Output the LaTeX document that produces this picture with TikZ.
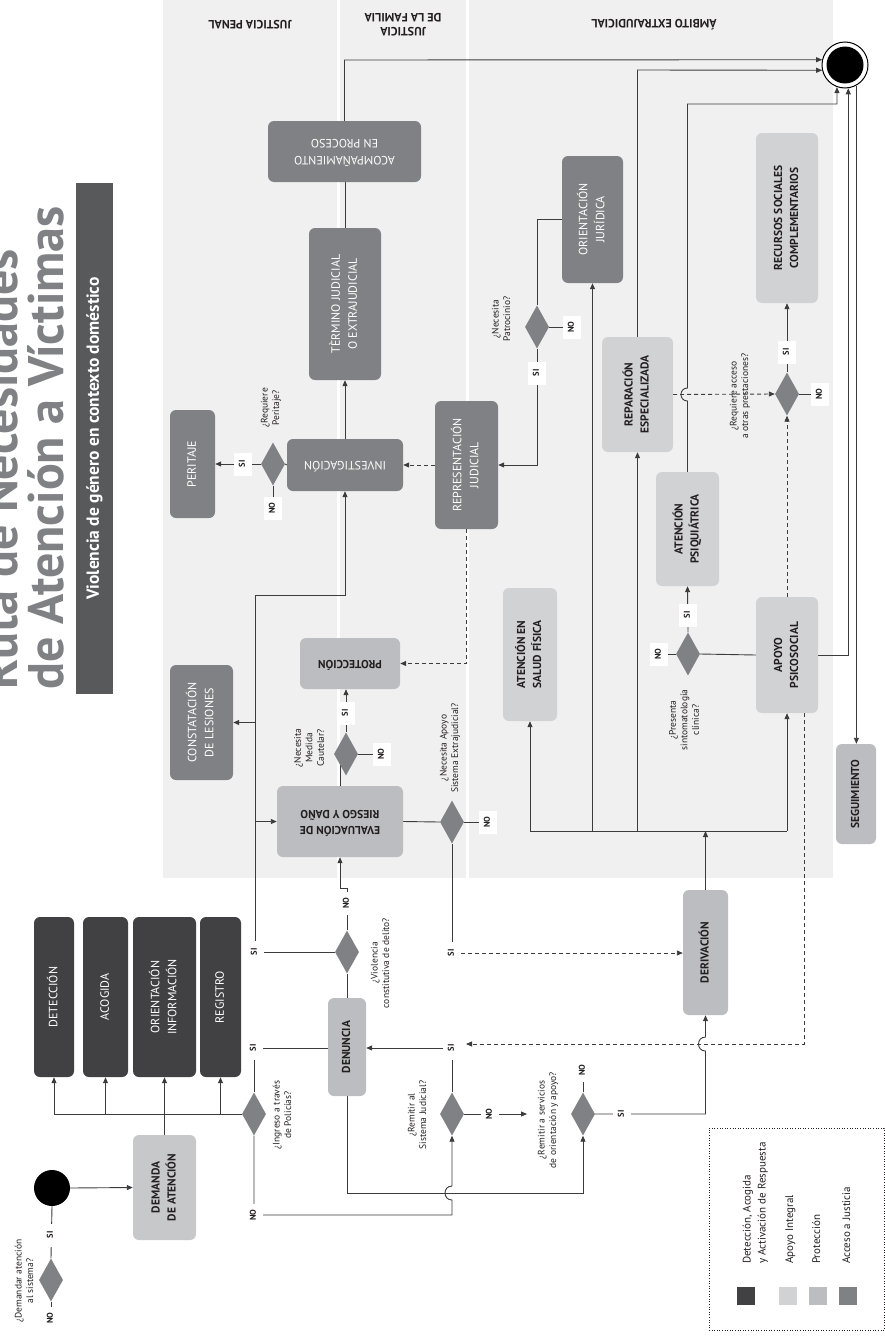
\documentclass[tikz,border=0pt]{standalone}
\usepackage{fontspec}
\setmainfont{PT Sans}
\usetikzlibrary{shapes.geometric,arrows.meta,calc}
\definecolor{cDet}{HTML}{414042}
\definecolor{cAcc}{HTML}{808184}
\definecolor{cPro}{HTML}{BCBDC0}
\definecolor{cApo}{HTML}{D1D2D4}
\definecolor{cDem}{HTML}{C7C8CA}
\definecolor{cDia}{HTML}{808184}
\definecolor{cLane}{HTML}{F0F0F0}
\definecolor{cLine}{HTML}{3C3C3C}
\definecolor{cTxt}{HTML}{231F20}
\definecolor{cTitle}{HTML}{808184}
\definecolor{cBar}{HTML}{58595B}
\newcommand\rtx[1]{\rotatebox{90}{\begin{tabular}{@{}c@{}}#1\end{tabular}}}
\newcommand\rlx[1]{\rotatebox{90}{\begin{tabular}{@{}l@{}}#1\end{tabular}}}
\newcommand\udx[1]{\rotatebox{180}{\begin{tabular}{@{}c@{}}#1\end{tabular}}}
\pgfdeclarelayer{bg}
\pgfsetlayers{bg,main}
\tikzset{
 box/.style={rectangle, rounded corners=6pt, inner sep=0pt},
 bdet/.style={box, fill=cDet, text=white, font=\fontsize{12}{17}\selectfont},
 bacc/.style={box, fill=cAcc, text=white, font=\fontsize{12}{17}\selectfont},
 bpro/.style={box, fill=cPro, text=cTxt, font=\bfseries\fontsize{11.5}{16}\selectfont},
 bapo/.style={box, fill=cApo, text=cTxt, font=\bfseries\fontsize{11.5}{16}\selectfont},
 dia/.style={diamond, fill=cDia, inner sep=0pt, minimum width=24pt, minimum height=43pt},
 lbl/.style={rectangle, fill=white, inner sep=0pt, minimum width=18pt, minimum height=23pt, text=cTxt, font=\bfseries\fontsize{8.5}{9}\selectfont},
 qtxt/.style={inner sep=0pt, text=cTxt, font=\fontsize{9.5}{11.5}\selectfont},
 hdr/.style={inner sep=0pt, text=cTxt, align=center, font=\bfseries\fontsize{12}{14}\selectfont},
 ln/.style={draw=cLine, line width=0.9pt},
 arr/.style={ln, -{Triangle[length=6pt,width=5pt]}},
 dsh/.style={ln, dash pattern=on 4pt off 3pt},
 darr/.style={dsh, -{Triangle[length=6pt,width=5pt]}},
 legt/.style={inner sep=0pt, text=cTxt, font=\fontsize{11}{15}\selectfont},
}
\begin{document}
\begin{tikzpicture}[x=1pt,y=-1pt]
\useasboundingbox (0,0) rectangle (885,1338);
\begin{pgfonlayer}{bg}
\fill[cLane] (163,0) rectangle (833,878);
\fill[white] (336.5,0) rectangle (340,878);
\fill[white] (465.5,0) rectangle (469,878);
\end{pgfonlayer}

% title
\node[anchor=base west, rotate=90, inner sep=0pt, text=cTitle, font=\bfseries\fontsize{50}{50}\selectfont] (title1) at (17,690) {Ruta de Necesidades};
\node[anchor=base west, rotate=90, inner sep=0pt, text=cTitle, font=\bfseries\fontsize{50}{50}\selectfont] (title2) at (63,690) {de Atención a Víctimas};
\node[fill=cBar, minimum width=37pt, minimum height=511pt, inner sep=0pt, text=white, font=\bfseries\fontsize{17.5}{20}\selectfont] (bar) at (94.5,438.5) {\rotatebox{90}{Violencia de género en contexto doméstico}};

% lane headers
\node[hdr, rotate=180] (hpen) at (250,25) {JUSTICIA PENAL};
\node[hdr, rotate=180] (hfam) at (403,25) {JUSTICIA\\DE LA FAMILIA};
\node[hdr, rotate=180] (hext) at (654,25) {ÁMBITO EXTRAJUDICIAL};

% detection column
\node[bdet, minimum width=40pt, minimum height=160pt] (det) at (54,997) {\rtx{DETECCIÓN}};
\node[bdet, minimum width=45pt, minimum height=160pt] (aco) at (105.5,997) {\rtx{ACOGIDA}};
\node[bdet, minimum width=63pt, minimum height=160pt] (ori) at (164.5,997) {\rtx{ORIENTACIÓN\\INFORMACIÓN}};
\node[bdet, minimum width=41pt, minimum height=160pt] (reg) at (220.5,997) {\rtx{REGISTRO}};
\node[bpro, fill=cDem, minimum width=63pt, minimum height=105pt] (dem) at (164.5,1187.5) {\rtx{DEMANDA\\DE ATENCIÓN}};
\node[circle, fill=black, minimum size=36pt, inner sep=0pt] (start) at (52,1188) {};
\node[dia] (q0) at (51,1280) {};
\node[qtxt] (q0t) at (25,1281) {\rtx{¿Demandar atención\\al sistema?}};
\node[lbl] (l0s) at (51,1235) {\rtx{SI}};
\node[lbl] (l0n) at (51,1318) {\rtx{NO}};

% police / denuncia
\node[dia] (qpol) at (254,1114) {};
\node[qtxt] (qpolt) at (283,1115) {\rtx{¿Ingreso a través\\de Policías?}};
\node[lbl] (lps) at (254,1048) {\rtx{SI}};
\node[lbl] (lpn) at (254,1215) {\rtx{NO}};
\node[bpro, minimum width=38pt, minimum height=98pt] (den) at (347,1047) {\rtx{DENUNCIA}};
\node[dia] (qjud) at (452,1114) {};
\node[qtxt] (qjudt) at (418,1115) {\rtx{¿Remitir al\\Sistema Judicial?}};
\node[lbl] (ljs) at (452,1048) {\rtx{SI}};
\node[lbl] (ljn) at (490,1114) {\rtx{NO}};
\node[dia] (qserv) at (583,1114) {};
\node[qtxt] (qservt) at (548,1120) {\rtx{¿Remitir a servicios\\de orientación y apoyo?}};
\node[lbl] (lvn) at (583,1070) {\rtx{NO}};
\node[lbl] (lvs) at (622,1114) {\rtx{SI}};
\node[dia] (qvio) at (347,952) {};
\node[qtxt] (qviot) at (381,963) {\rtx{¿Violencia\\constitutiva de delito?}};
\node[lbl] (lis) at (255,952) {\rtx{SI}};
\node[lbl] (lin) at (347,903) {\rtx{NO}};
\node[bpro, minimum width=45pt, minimum height=125pt] (der) at (705.5,952.5) {\rtx{DERIVACIÓN}};
\node[bpro, minimum width=40pt, minimum height=100pt] (seg) at (856,794) {\rtx{SEGUIMIENTO}};

% penal lane
\node[bpro, minimum width=126pt, minimum height=71pt] (eva) at (340,821.5) {\udx{EVALUACIÓN DE\\RIESGO Y DAÑO}};
\node[dia] (qcau) at (346,754) {};
\node[qtxt] (qcaut) at (310,748) {\rtx{¿Necesita\\Medida\\Cautelar?}};
\node[lbl] (lcs) at (346,713) {\rtx{SI}};
\node[lbl] (lcn) at (382,754) {\rtx{NO}};
\node[bpro, minimum width=100pt, minimum height=51pt] (pro) at (350,663.5) {\udx{PROTECCIÓN}};
\node[dia] (qext) at (452,822) {};
\node[qtxt] (qextt) at (450,748) {\rtx{¿Necesita Apoyo\\Sistema Extrajudicial?}};
\node[lbl] (lxs) at (452,953) {\rtx{SI}};
\node[lbl] (lxn) at (488,822) {\rtx{NO}};
\node[bacc, minimum width=63pt, minimum height=115pt] (cons) at (201.5,722.5) {\rtx{CONSTATACIÓN\\DE LESIONES}};
\node[bacc, minimum width=116pt, minimum height=52pt] (inv) at (345,465) {\udx{INVESTIGACIÓN}};
\node[dia] (qper) at (273,464) {};
\node[qtxt] (qpert) at (271,408) {\rtx{¿Requiere\\Peritaje?}};
\node[lbl] (lqs) at (243,464) {\rtx{SI}};
\node[lbl] (lqn) at (273,508) {\rtx{NO}};
\node[bacc, minimum width=45pt, minimum height=108pt] (per) at (192.5,464) {\rtx{PERITAJE}};
\node[bacc, minimum width=72pt, minimum height=152pt] (ter) at (345,304) {\rtx{TÈRMINO JUDICIAL\\O EXTRAJUDICIAL}};
\node[bacc, minimum width=153pt, minimum height=61pt] (aco2) at (344.5,151.5) {\udx{ACOMPAÑAMIENTO\\EN PROCESO}};
\node[bacc, minimum width=63pt, minimum height=128pt] (rep) at (466.5,465) {\rtx{REPRESENTACIÓN\\JUDICIAL}};

% extrajudicial lane
\node[dia] (qpat) at (537,327) {};
\node[qtxt] (qpatt) at (502,319) {\rtx{¿Necesita\\Patrocinio?}};
\node[lbl] (lts) at (537,373) {\rtx{SI}};
\node[lbl] (ltn) at (572,327) {\rtx{NO}};
\node[bacc, minimum width=61pt, minimum height=127pt] (orj) at (592.5,219.5) {\rtx{ORIENTACIÓN\\JURÍDICA}};
\node[bapo, minimum width=54pt, minimum height=133pt] (sal) at (530,654.5) {\rtx{ATENCIÓN EN\\SALUD FÍSICA}};
\node[bapo, minimum width=71pt, minimum height=115pt] (repa) at (637.5,394.5) {\rtx{REPARACIÓN\\ESPECIALIZADA}};
\node[bapo, minimum width=63pt, minimum height=114pt] (psi) at (687.5,529) {\rtx{ATENCIÓN\\PSIQUIÁTRICA}};
\node[bapo, minimum width=62pt, minimum height=116pt] (apo) at (787,655) {\rtx{APOYO\\PSICOSOCIAL}};
\node[bapo, minimum width=62pt, minimum height=170pt] (rec) at (787,218) {\rtx{RECURSOS SOCIALES\\COMPLEMENTARIOS}};
\node[dia] (qpre) at (787,394) {};
\node[qtxt] (qpret) at (740,396) {\rtx{¿Requiere acceso\\a otras prestaciones?}};
\node[lbl] (lrs) at (787,352) {\rtx{SI}};
\node[lbl] (lrn) at (820,394) {\rtx{NO}};
\node[dia] (qsin) at (688,654) {};
\node[qtxt] (qsint) at (685,720) {\rtx{¿Presenta\\sintomatología\\clínica?}};
\node[lbl] (lss) at (688,615) {\rtx{SI}};
\node[lbl] (lsn) at (659,654) {\rtx{NO}};
\node[circle, draw=black, line width=1pt, fill=white, minimum size=46pt, inner sep=0pt] (end) at (845,65) {};
\node[circle, fill=black, minimum size=37pt, inner sep=0pt] (endc) at (845,65) {};

% legend
\node[draw=cTxt, dotted, line width=0.6pt, minimum width=175pt, minimum height=202pt, inner sep=0pt] (leg) at (796.5,1229) {};
\node[fill=cDet, minimum size=18pt, inner sep=0pt] (sw1) at (746,1296) {};
\node[fill=cApo, minimum size=18pt, inner sep=0pt] (sw2) at (788,1296) {};
\node[fill=cPro, minimum size=18pt, inner sep=0pt] (sw3) at (818,1296) {};
\node[fill=cAcc, minimum size=18pt, inner sep=0pt] (sw4) at (848,1296) {};
\node[legt, anchor=south] (lt1) at (755,1264) {\rlx{Detección, Acogida\\y Activación de Respuesta}};
\node[legt, anchor=south] (lt2) at (790,1264) {\rlx{Apoyo Integral}};
\node[legt, anchor=south] (lt3) at (817,1264) {\rlx{Protección}};
\node[legt, anchor=south] (lt4) at (847,1264) {\rlx{Acceso a Justicia}};

% helper levels
\coordinate (y60) at (0,60);
\coordinate (y70) at (0,70);
\coordinate (y104) at (0,104);
\coordinate (y595) at (0,595);
\coordinate (y831) at (0,831);
\coordinate (y888) at (0,888);
\coordinate (y1044) at (0,1044);
\coordinate (y1193) at (0,1193);
\coordinate (apoD) at ($(apo.south)+(17,0)$);
\coordinate (djs) at (466,1044);
\coordinate (jarr) at (527,1114);

\begin{pgfonlayer}{bg}
% start
\draw[ln] (q0.north) -- (start.south);
\draw[ln] (q0.south) -- (l0n.center);
\draw[arr] (start.east) -- (dem.west);
\draw[arr] (dem.north) -- (ori.south);
\draw[ln] (qpol.west) -- (det.south |- qpol.west);
\draw[arr] (det.south |- qpol.west) -- (det.south);
\draw[arr] (aco.south |- qpol.west) -- (aco.south);
\draw[arr] (reg.south |- qpol.west) -- (reg.south);
% police
\draw[ln] (qpol.north) -- (lps.center) -- (lps.center -| den.west);
\draw[arr] (qpol.south) -- (lpn.center) -- (lpn.center -| qjud.south) -- (452,1200) .. controls (442.7,1200) and (442.7,1186) .. (452,1186) -- (qjud.south);
\draw[arr] (den.south) -- (den.south |- y1193) -- (qserv.south |- y1193) -- (qserv.south);
\draw[arr] (qjud.north) -- (ljs.center) -- (ljs.center -| den.east);
\draw[arr] (qjud.east) -- (jarr);
\draw[ln] (qserv.north) -- (lvn.center);
\draw[arr] (qserv.east) -- (qserv.east -| der.south) -- (705.5,1051) .. controls (696.2,1051) and (696.2,1037) .. (705.5,1037) -- (der.south);
\draw[darr] (apoD) -- (apoD |- y1044) -- (djs);
% violence
\draw[ln] (den.north) -- (qvio.south);
\draw[arr] (qvio.west) -- (lis.center) -- (lis.center |- y595) -- (inv.south |- y595) -- (inv.south);
\draw[arr] (lis.center |- cons.east) -- (cons.east);
\draw[arr] (lis.center |- eva.west) -- (eva.west);
\draw[arr] (qvio.north) -- (qvio.north |- y888) -- (eva.south |- y888) -- (eva.south);
% evaluation
\draw[ln] (eva.north) -- (eva.north |- qcau.center);
\draw[arr] (qcau.north) -- (qcau.north |- pro.south);
\draw[ln] (qcau.east) -- (lcn.center);
\draw[ln] (eva.east) -- (qext.west);
\draw[ln] (qext.east) -- (lxn.center);
\draw[ln] (qext.south) -- (lxs.center);
\draw[darr] (lxs.east) -- (lxs.center -| der.west);
% investigation
\draw[arr] (inv.north) -- (ter.south);
\draw[ln] (ter.north) -- (ter.north |- aco2.south);
\draw[arr] (aco2.north) -- (aco2.north |- y60) -- (end.167);
\draw[ln] (inv.west) -- (qper.east);
\draw[arr] (qper.west) -- (per.east);
\draw[ln] (qper.south) -- (lqn.center);
\draw[darr] (rep.west) -- (inv.east);
\draw[darr] (rep.south) -- (rep.south |- pro.east) -- (pro.east);
% patrocinio
\draw[ln] (orj.west) -- (orj.west -| qpat.north) -- (qpat.north);
\draw[arr] (qpat.south) -- (qpat.south |- rep.east) -- (rep.east);
\draw[ln] (qpat.east) -- (ltn.center);
% derivation bus
\draw[arr] (der.north) -- (der.north |- y831);
\draw[ln] (sal.south |- y831) -- (apo.south |- y831);
\draw[arr] (sal.south |- y831) -- (sal.south);
\draw[arr] (orj.south |- y831) -- (orj.south);
\draw[arr] (repa.south |- y831) -- (repa.south);
\draw[arr] (apo.south |- y831) -- (apo.south);
% apoyo
\draw[ln] (apo.west) -- (qsin.east);
\draw[arr] (qsin.north) -- (psi.south);
\draw[ln] (qsin.west) -- (lsn.center);
\draw[darr] (repa.east) -- (qpre.west);
\draw[darr] (apo.north) -- (qpre.south);
\draw[arr] (qpre.north) -- (rec.south);
\draw[ln] (qpre.east) -- (lrn.center);
% to end
\draw[arr] (repa.north) -- (repa.north |- y70) -- (end.193);
\draw[arr] (psi.north) -- (687.5,401) .. controls (678.8,401) and (678.8,388) .. (687.5,388) -- (psi.north |- y104) -- (end.250 |- y104) -- (end.250);
\draw[arr] (apo.east) -- (end.278 |- apo.east) -- (end.278);
\draw[arr] (end.299) -- (end.299 |- seg.north);
\end{pgfonlayer}
\end{tikzpicture}
\end{document}
